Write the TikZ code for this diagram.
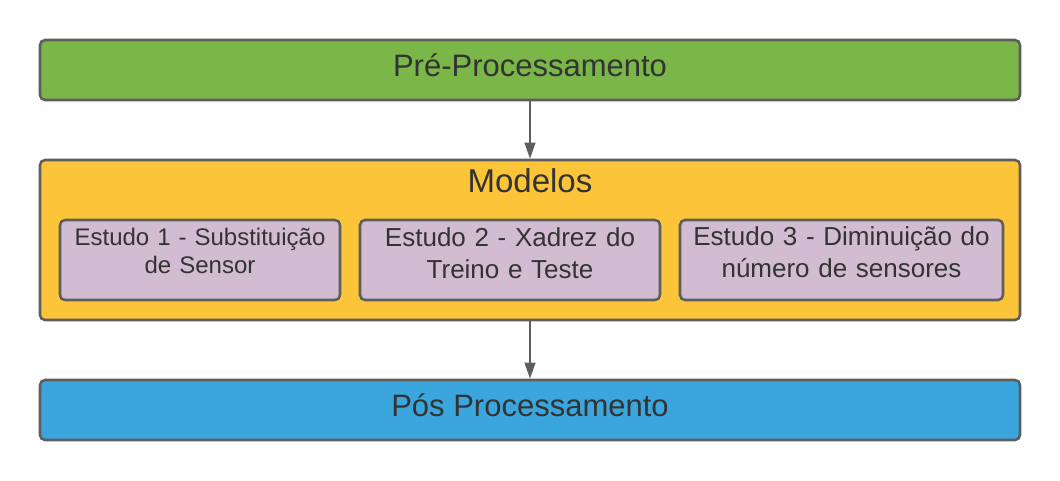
\documentclass[tikz,border=0pt]{standalone}
\usepackage{fontspec}
\setmainfont{Liberation Sans}
\usetikzlibrary{arrows.meta}

\definecolor{preGreen}{RGB}{122,182,72}
\definecolor{modOrange}{RGB}{252,196,56}
\definecolor{posBlue}{RGB}{58,166,221}
\definecolor{studyLilac}{RGB}{209,188,210}
\definecolor{edgeGrey}{RGB}{94,94,94}
\definecolor{textGrey}{RGB}{51,51,51}

\begin{document}
\begin{tikzpicture}[x=0.75pt,y=0.75pt,yscale=-1,xscale=1,
  stagebox/.style={draw=edgeGrey,line width=1.9pt,rounded corners=3.75pt,inner sep=0pt,minimum width=735pt},
  studybox/.style={draw=edgeGrey,line width=1.9pt,rounded corners=3.75pt,fill=studyLilac,inner sep=0pt,minimum height=60pt},
  stagetext/.style={text=textGrey,inner sep=0pt,anchor=base,font=\fontsize{23.25}{28}\selectfont},
  studytext/.style={text=textGrey,inner sep=0pt,anchor=base,align=center,text width=235pt,font=\fontsize{19.5}{24}\selectfont},
  flow/.style={draw=edgeGrey,line width=1.5pt,-{Triangle[length=12pt,width=8pt]}}]
\useasboundingbox (0,0) rectangle (1060,480);

%Shape: Rectangle [pre]
\node [stagebox,fill=preGreen,minimum height=45pt] (pre) at (530,70) {};
%Shape: Rectangle [modelos]
\node [stagebox,fill=modOrange,minimum height=120pt] (modelos) at (530,240) {};
%Shape: Rectangle [pos]
\node [stagebox,fill=posBlue,minimum height=45pt] (pos) at (530,410) {};

%Shape: Rectangle [estudo 1]
\node [studybox,minimum width=210pt] (est1) at (200,260) {};
%Shape: Rectangle [estudo 2]
\node [studybox,minimum width=225pt] (est2) at (510,260) {};
%Shape: Rectangle [estudo 3]
\node [studybox,minimum width=242.25pt] (est3) at (841.5,260) {};

%Straight Lines [pre -> modelos]
\draw [flow] (pre) -- (modelos);
%Straight Lines [modelos -> pos]
\draw [flow] (modelos) -- (pos);

% Text Node
\node [stagetext] (preText) at (530,76) {Pré-Processamento};
% Text Node
\node [stagetext,font=\fontsize{24.75}{30}\selectfont] (modText) at (530,192) {Modelos};
% Text Node
\node [stagetext] (posText) at (530,416) {Pós Processamento};
% Text Node
\node [studytext,font=\fontsize{18}{21}\selectfont] (est1Text) at (200,245) {Estudo 1 - Substituição\\de Sensor};
% Text Node
\node [studytext] (est2Text) at (510,246) {Estudo 2 - Xadrez do\\Treino e Teste};
% Text Node
\node [studytext] (est3Text) at (841.5,245) {Estudo 3 - Diminuição do\\número de sensores};

\end{tikzpicture}
\end{document}
